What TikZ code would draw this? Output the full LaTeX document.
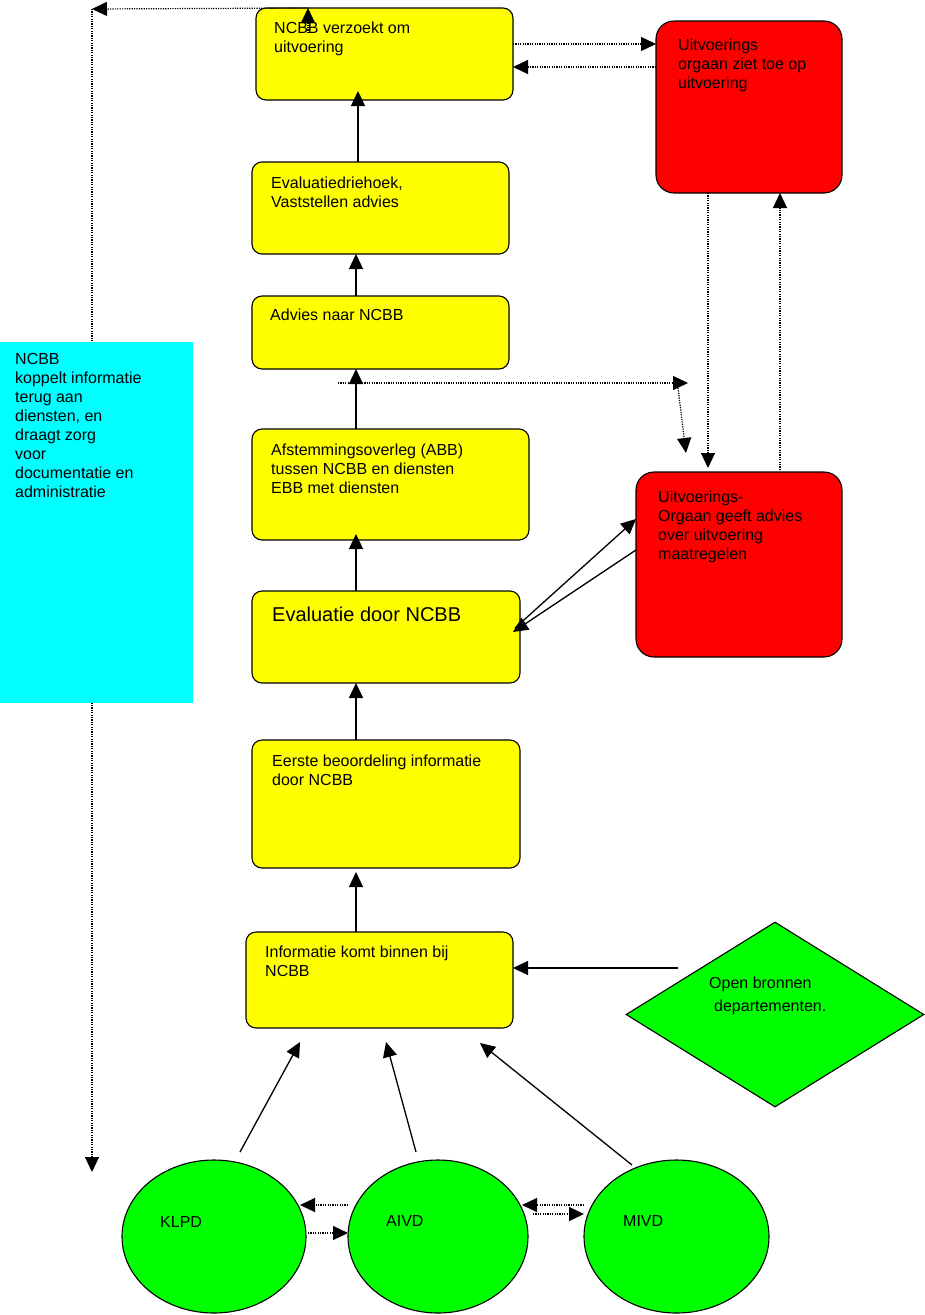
\documentclass[tikz,border=0pt]{standalone}
\usepackage{fontspec}
\setmainfont{Liberation Sans}
\usetikzlibrary{arrows.meta,shapes.geometric}
\definecolor{stapgeel}{RGB}{255,255,0}
\definecolor{uitvrood}{RGB}{255,0,0}
\definecolor{dienstgroen}{RGB}{0,255,0}
\definecolor{terugcyaan}{RGB}{0,255,255}

\begin{document}
\begin{tikzpicture}[x=1pt, y=-1pt, >={Triangle[length=15pt,width=14pt]},
    box/.style={draw, line width=1.1pt, anchor=north west, inner sep=0pt, outer sep=0pt},
    ybox/.style={box, fill=stapgeel, rounded corners=10pt},
    rbox/.style={box, fill=uitvrood, rounded corners=18pt},
    dienst/.style={ellipse, draw, line width=1.1pt, fill=dienstgroen, inner sep=0pt},
    txt/.style={anchor=north west, align=left, inner sep=0pt, font=\fontsize{16}{19}\selectfont},
    flow/.style={->, line width=1.3pt},
    dotflow/.style={->, line width=1.2pt, dash pattern=on 1.2pt off 1.2pt}]
    \useasboundingbox (0,0) rectangle (925,1315);

    % stappen NCBB
    \node[ybox, minimum width=257pt, minimum height=92pt] (b1) at (256,8) {};
    \node[ybox, minimum width=257pt, minimum height=92pt] (b2) at (252,162) {};
    \node[ybox, minimum width=257pt, minimum height=73pt] (b3) at (252,296) {};
    \node[ybox, minimum width=277pt, minimum height=111pt] (b4) at (252,429) {};
    \node[ybox, minimum width=268pt, minimum height=92pt] (b5) at (252,591) {};
    \node[ybox, minimum width=268pt, minimum height=128pt] (b6) at (252,740) {};
    \node[ybox, minimum width=267pt, minimum height=96pt] (b7) at (246,932) {};
    \node[txt] (t1) at (274,22) {NCBB verzoekt om\\uitvoering};
    \node[txt] (t2) at (271,177) {Evaluatiedriehoek,\\Vaststellen advies};
    \node[txt] (t3) at (270,309) {Advies naar NCBB};
    \node[txt] (t4) at (271,444) {Afstemmingsoverleg (ABB)\\tussen NCBB en diensten\\EBB met diensten};
    \node[txt, font=\fontsize{20}{24}\selectfont] (t5) at (272,607) {Evaluatie door NCBB};
    \node[txt] (t6) at (272,755) {Eerste beoordeling informatie\\door NCBB};
    \node[txt] (t7) at (265,946) {Informatie komt binnen bij\\NCBB};

    % uitvoeringsorgaan
    \node[rbox, minimum width=186pt, minimum height=172pt] (r1) at (656,21) {};
    \node[rbox, minimum width=206pt, minimum height=185pt] (r2) at (636,472) {};
    \node[txt] (tr1) at (678,39) {Uitvoerings\\orgaan ziet toe op\\uitvoering};
    \node[txt] (tr2) at (658,491) {Uitvoerings-\\Orgaan geeft advies\\over uitvoering\\maatregelen};

    % bronnen en diensten
    \node[diamond, draw, line width=1.1pt, fill=dienstgroen, inner sep=0pt,
          minimum width=298pt, minimum height=185pt] (d) at (775,1014.5) {};
    \node[txt] (td) at (709,977) {Open bronnen\\[4pt]\hspace{5pt}departementen.};
    \node[dienst, minimum width=184pt, minimum height=153pt] (k) at (214,1236.5) {};
    \node[dienst, minimum width=180pt, minimum height=153pt] (a) at (438,1236.5) {};
    \node[dienst, minimum width=185pt, minimum height=153pt] (m) at (676.5,1236.5) {};
    \node[txt, anchor=west] (tk) at (160,1222) {KLPD};
    \node[txt, anchor=west] (ta) at (386,1221) {AIVD};
    \node[txt, anchor=west] (tm) at (623,1221) {MIVD};

    % hoofdlijn
    \draw[flow] ([xshift=-23.5pt]b7.north) -- ([xshift=-30pt,yshift=-4pt]b6.south);
    \draw[flow] ([xshift=-30pt]b6.north) -- ([xshift=-30pt]b5.south);
    \draw[flow] ([xshift=-30pt]b5.north) -- ([xshift=-34.5pt,yshift=6pt]b4.south);
    \draw[flow] ([xshift=-34.5pt]b4.north) -- ([xshift=-24.5pt]b3.south);
    \draw[flow] ([xshift=-24.5pt]b3.north) -- ([xshift=-24.5pt]b2.south);
    \draw[flow] ([xshift=-22.5pt]b2.north) -- ([xshift=-26.5pt,yshift=9pt]b1.south);
    \draw[flow] ([xshift=-97pt,yshift=46.5pt]d.center) -- ([yshift=12pt]b7.east);
    \draw[flow] ([xshift=26pt,yshift=84.5pt]k.center) -- ([xshift=-79.5pt,yshift=-14pt]b7.south);
    \draw[flow] ([xshift=-22pt,yshift=84.5pt]a.center) -- ([xshift=6.5pt,yshift=-14pt]b7.south);
    \draw[flow] ([xshift=-44.5pt,yshift=71.5pt]m.center) -- ([xshift=100.5pt,yshift=-15pt]b7.south);
    \draw[flow] ([xshift=-5pt,yshift=9pt]b5.east) -- ([yshift=45.5pt]r2.west);
    \draw[flow] ([yshift=14.5pt]r2.west) -- ([xshift=-7pt,yshift=5pt]b5.east);

    % terugkoppeling (gestippeld)
    \coordinate (u1) at (308,33);
    \coordinate (u2) at (308,8);
    \coordinate (u3) at (92,9);
    \coordinate (u4) at (92,1172);
    \coordinate (v1) at (338,383);
    \coordinate (v2) at (688,383);
    \coordinate (v3) at (678,388);
    \coordinate (v4) at (686,453);
    \draw[dotflow] (u1) -- (u2);
    \draw[dotflow] (u2) -- (u3);
    \draw[dotflow] (u3) -- (u4);
    \draw[dotflow] (v1) -- (v2);
    \draw[dotflow] (v3) -- (v4);
    \draw[dotflow] ([yshift=10pt]b1.east) -- ([yshift=63pt]r1.west);
    \draw[dotflow] ([yshift=40pt]r1.west) -- ([yshift=-13pt]b1.east);
    \draw[dotflow] ([xshift=-41pt]r1.south) -- ([xshift=-31pt,yshift=4pt]r2.north);
    \draw[dotflow] ([xshift=41pt,yshift=2pt]r2.north) -- ([xshift=31pt]r1.south);
    \draw[dotflow] ([xshift=-90pt,yshift=31.5pt]a.center) -- ([xshift=86pt,yshift=31.5pt]k.center);
    \draw[dotflow] ([xshift=94pt,yshift=3.5pt]k.center) -- ([xshift=-90pt,yshift=3.5pt]a.center);
    \draw[dotflow] ([xshift=-92.5pt,yshift=31.5pt]m.center) -- ([xshift=84pt,yshift=31.5pt]a.center);
    \draw[dotflow] ([xshift=95pt,yshift=22.5pt]a.center) -- ([xshift=-92.5pt,yshift=22.5pt]m.center);

    % NCBB koppelt terug
    \node[anchor=north west, fill=terugcyaan, inner sep=0pt, minimum width=193pt, minimum height=361pt] (c) at (0,342) {};
    \node[txt] (tc) at (15,353) {NCBB\\koppelt informatie\\terug aan\\diensten, en\\draagt zorg\\voor\\documentatie en\\administratie};
\end{tikzpicture}
\end{document}
